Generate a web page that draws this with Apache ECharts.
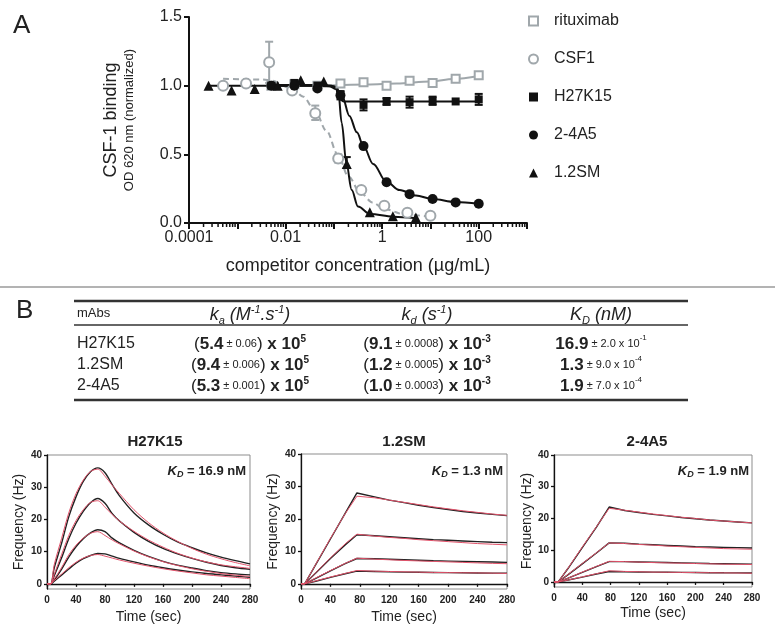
<!DOCTYPE html>
<html><head><meta charset="utf-8">
<script src="https://cdn.jsdelivr.net/npm/echarts@6/dist/echarts.min.js"></script>
<style>html,body{margin:0;padding:0;background:#fff}#c{width:775px;height:638px}</style>
</head><body><div id="c"></div>
<script>
// ================= Panel A data =================
const xTickExps = [-4, -2, 0, 2];
const xTickText = ['0.0001', '0.01', '1', '100'];
const yTicksA = [0, 0.5, 1.0, 1.5];
const minorMultipliers = [2, 3, 4, 5, 6, 7, 8, 9];
const minorDecades = [-4, -3, -2, -1, 0, 1, 2];

const concMab = [0.00508, 0.0152, 0.0457, 0.137, 0.4115, 1.235, 3.70, 11.1, 33.3, 100];
const ritVals = [1.0, 1.01, 1.0, 1.015, 1.025, 1.0, 1.035, 1.02, 1.05, 1.075];
const h27Vals = [1.0, 1.02, 1.0, 0.935, 0.86, 0.885, 0.88, 0.89, 0.885, 0.90];
const a45Vals = [1.0, 1.0, 0.98, 0.93, 0.56, 0.297, 0.21, 0.175, 0.15, 0.14];
const concCsf = [0.000508, 0.00152, 0.00457, 0.0137, 0.0412, 0.123, 0.37, 1.11, 3.33, 10];
const csfVals = [1.0, 1.015, 1.17, 0.965, 0.80, 0.47, 0.24, 0.125, 0.075, 0.053];
const concSm = [0.000254, 0.000762, 0.00229, 0.00686, 0.0206, 0.0617, 0.185, 0.556, 1.667, 5];
const smVals = [1.0, 0.965, 0.975, 1.0, 1.04, 1.03, 0.43, 0.078, 0.05, 0.04];

// error bars: [x, low, high]
const csfErr = [[0.00457, 1.02, 1.32], [0.0412, 0.75, 0.855], [0.123, 0.44, 0.50]];
const smErr = [[0.185, 0.40, 0.48]];
const h27Err = [[0.137, 0.90, 0.96], [0.4115, 0.82, 0.90], [1.235, 0.86, 0.91], [3.70, 0.84, 0.92], [11.1, 0.86, 0.92], [100, 0.86, 0.94]];

// fitted curves
const ritFitX = [0.00508, 0.05, 0.5, 2, 10, 30, 100];
const ritFitY = [1.0, 1.003, 1.008, 1.015, 1.03, 1.048, 1.07];
const csfFitX = [0.000508, 0.00316, 0.00457, 0.0135, 0.0234, 0.04, 0.0708, 0.12, 0.2, 0.355, 0.63, 1.12, 3.16, 10];
const csfFitY = [1.05, 1.045, 1.04, 0.98, 0.92, 0.82, 0.67, 0.50, 0.34, 0.22, 0.15, 0.10, 0.06, 0.045];
const h27FitX = [0.00508, 0.046, 0.09, 0.11, 0.125, 0.14, 0.16, 0.3, 100];
const h27FitY = [1.005, 1.005, 1.0, 0.98, 0.93, 0.895, 0.885, 0.885, 0.885];
const a45FitX = [0.00508, 0.03, 0.08, 0.112, 0.15, 0.21, 0.3, 0.41, 0.65, 1.23, 2.3, 5, 11, 33, 100];
const a45FitY = [1.0, 1.0, 0.995, 0.975, 0.92, 0.78, 0.66, 0.56, 0.43, 0.30, 0.24, 0.20, 0.175, 0.153, 0.14];
const smFitX = [0.000254, 0.05, 0.1, 0.115, 0.123, 0.145, 0.182, 0.234, 0.316, 0.56, 1.7, 5];
const smFitY = [1.0, 1.0, 0.995, 0.99, 0.97, 0.73, 0.435, 0.24, 0.12, 0.066, 0.046, 0.035];

// ================= Panel B table =================
const tabMabs = ['H27K15', '1.2SM', '2-4A5'];
const kaVal = ['5.4', '9.4', '5.3'];
const kaErr = ['0.06', '0.006', '0.001'];
const kaExp = '5';
const kdVal = ['9.1', '1.2', '1.0'];
const kdErr = ['0.0008', '0.0005', '0.0003'];
const kdExp = '-3';
const KDVal = ['16.9', '1.3', '1.9'];
const KDErr = ['2.0', '9.0', '7.0'];
const KDErrExp = ['-1', '-4', '-4'];

// ================= Panel B sensorgrams =================
const sensTitles = ['H27K15', '1.2SM', '2-4A5'];
const sensKD = ['16.9', '1.3', '1.9'];
const yTicksB = [0, 10, 20, 30, 40];

const tH = [0, 5, 10, 20, 30, 40, 50, 60, 70, 80, 90, 100, 120, 140, 160, 180, 200, 220, 240, 260, 280];
const h1k = [0, 0, 5, 12.5, 20.8, 27, 31.8, 34.8, 36, 34.5, 30.8, 27.3, 22, 18.3, 15.4, 13, 11.2, 9.6, 8.3, 7.2, 6.2];
const h1r = [0, 0, 6, 14, 22, 28, 32.2, 34.9, 35.6, 33.4, 30.6, 28, 23, 19, 15.8, 13.2, 11, 9.2, 7.8, 6.6, 5.6];
const h2k = [0, 0, 2.5, 8, 14, 18.8, 22.5, 25.2, 26.5, 25, 21.8, 19.5, 16, 13.2, 11, 9.3, 7.9, 6.7, 5.7, 5.0, 4.5];
const h2r = [0, 0, 3, 9, 15, 19.6, 23, 25.3, 25.8, 23.8, 21.5, 19.5, 16.3, 13.6, 11.4, 9.5, 8.0, 6.8, 5.9, 5.3, 4.8];
const h3k = [0, 0, 1.2, 4.5, 8.3, 11.5, 14, 15.8, 16.8, 16.2, 14.2, 12.7, 10.4, 8.5, 7.0, 5.8, 4.9, 4.1, 3.5, 3.1, 2.8];
const h3r = [0, 0, 1.5, 5, 9, 12, 14.2, 15.7, 16.2, 15.0, 13.6, 12.4, 10.2, 8.4, 6.9, 5.7, 4.7, 3.9, 3.2, 2.7, 2.3];
const h4k = [0, 0, 0.8, 2.7, 4.6, 6.4, 7.8, 8.8, 9.4, 9.3, 8.6, 7.9, 6.8, 5.8, 5.0, 4.3, 3.7, 3.2, 2.8, 2.4, 2.0];
const h4r = [0, 0, 1, 3, 5, 6.7, 8, 8.8, 9.1, 8.6, 8.0, 7.4, 6.4, 5.5, 4.7, 4.0, 3.4, 2.8, 2.4, 2.0, 1.6];

const tS = [0, 5, 20, 40, 60, 76, 100, 120, 140, 160, 180, 200, 220, 240, 260, 280];
const s1k = [0, 0, 5.9, 13.8, 21.7, 28, 26.8, 25.8, 25, 24.2, 23.5, 22.9, 22.3, 21.8, 21.4, 21.0];
const s1r = [0, 0, 6, 14, 21.6, 27, 26.5, 25.8, 25.1, 24.4, 23.7, 23.1, 22.5, 22, 21.5, 21.1];
const s2k = [0, 0, 3.3, 7.8, 12, 15.1, 14.8, 14.5, 14.2, 13.9, 13.6, 13.4, 13.2, 13, 12.8, 12.7];
const s2r = [0, 0, 3.4, 8, 12.3, 15.3, 14.7, 14.3, 14, 13.6, 13.3, 13, 12.7, 12.4, 12.2, 12.0];
const s3k = [0, 0, 1.7, 4.0, 6.2, 7.8, 7.7, 7.55, 7.4, 7.25, 7.1, 7.0, 6.9, 6.8, 6.7, 6.6];
const s3r = [0, 0, 1.8, 4.1, 6.3, 7.9, 7.6, 7.4, 7.2, 7.05, 6.9, 6.75, 6.6, 6.45, 6.3, 6.2];
const s4k = [0, 0, 0.8, 2.0, 3.1, 3.9, 3.8, 3.7, 3.6, 3.55, 3.5, 3.45, 3.4, 3.35, 3.3, 3.3];
const s4r = [0, 0, 0.9, 2.1, 3.2, 4.1, 3.9, 3.8, 3.7, 3.6, 3.5, 3.45, 3.4, 3.35, 3.3, 3.2];

const tA = [0, 6, 20, 40, 60, 78, 100, 120, 140, 160, 180, 200, 220, 240, 260, 280];
const a1k = [0, 0, 4.3, 10.8, 17.3, 23.6, 22.5, 21.9, 21.3, 20.8, 20.3, 19.9, 19.5, 19.2, 18.9, 18.6];
const a1r = [0, 0, 4.4, 11, 17.4, 23.2, 22.6, 22, 21.4, 20.9, 20.4, 20, 19.5, 19.2, 18.9, 18.6];
const a2k = [0, 0, 2.3, 5.7, 9.1, 12.3, 12.2, 11.9, 11.7, 11.5, 11.3, 11.1, 11.0, 10.9, 10.8, 10.7];
const a2r = [0, 0, 2.4, 5.8, 9.2, 12.3, 12.1, 11.8, 11.6, 11.3, 11.1, 10.9, 10.7, 10.5, 10.4, 10.3];
const a3k = [0, 0, 1.2, 3.0, 4.8, 6.4, 6.4, 6.3, 6.2, 6.1, 6.0, 5.9, 5.8, 5.75, 5.7, 5.6];
const a3r = [0, 0, 1.2, 3.1, 4.9, 6.5, 6.4, 6.25, 6.1, 6.0, 5.9, 5.8, 5.7, 5.6, 5.55, 5.5];
const a4k = [0, 0, 0.6, 1.5, 2.5, 3.3, 3.2, 3.15, 3.1, 3.05, 3.0, 2.95, 2.9, 2.87, 2.85, 2.8];
const a4r = [0, 0, 0.6, 1.6, 2.6, 3.5, 3.3, 3.2, 3.1, 3.05, 3.0, 2.95, 2.9, 2.85, 2.8, 2.75];

// ================= build chart =================
const FONT = '"Liberation Sans", Arial, Helvetica, sans-serif';
const GRAY = '#a0a7ab';
const BLK = '#111111';
const RED = '#e2526a';
const zip = (xs, ys) => xs.map((x, i) => [x, ys[i]]);

const xMinor = [];
minorDecades.forEach(e => minorMultipliers.forEach(m => xMinor.push(m * Math.pow(10, e))));

function errRender(color) {
  return function (params, api) {
    const x = api.value(0);
    const lo = api.coord([x, api.value(1)]);
    const hi = api.coord([x, api.value(2)]);
    const w = 4;
    const st = { stroke: color, lineWidth: 2 };
    return { type: 'group', children: [
      { type: 'line', shape: { x1: lo[0], y1: lo[1], x2: hi[0], y2: hi[1] }, style: st },
      { type: 'line', shape: { x1: hi[0] - w, y1: hi[1], x2: hi[0] + w, y2: hi[1] }, style: st },
      { type: 'line', shape: { x1: lo[0] - w, y1: lo[1], x2: lo[0] + w, y2: lo[1] }, style: st }
    ] };
  };
}

const series = [];
function fitLine(name, xs, ys, color, dashed) {
  series.push({ type: 'line', name: name, xAxisIndex: 0, yAxisIndex: 0, data: zip(xs, ys),
    showSymbol: false, smooth: 0.35, smoothMonotone: 'x', silent: true, z: 2,
    lineStyle: { color: color, width: 2, type: dashed ? [6, 4] : 'solid' } });
}
fitLine('ritFit', ritFitX, ritFitY, GRAY, false);
fitLine('csfFit', csfFitX, csfFitY, GRAY, true);
fitLine('h27Fit', h27FitX, h27FitY, BLK, false);
fitLine('a45Fit', a45FitX, a45FitY, BLK, false);
fitLine('smFit', smFitX, smFitY, BLK, false);

function errSeries(data, color) {
  series.push({ type: 'custom', xAxisIndex: 0, yAxisIndex: 0, data: data, encode: { x: 0, y: [1, 2] },
    renderItem: errRender(color), silent: true, z: 3 });
}
errSeries(csfErr, GRAY);
errSeries(smErr, BLK);
errSeries(h27Err, BLK);

function scat(name, xs, ys, symbol, size, style) {
  series.push({ type: 'scatter', name: name, xAxisIndex: 0, yAxisIndex: 0, data: zip(xs, ys),
    symbol: symbol, symbolSize: size, itemStyle: Object.assign({ opacity: 1 }, style), z: 4 });
}
scat('rituximab', concMab, ritVals, 'rect', 8, { color: '#fff', borderColor: GRAY, borderWidth: 2 });
scat('CSF1', concCsf, csfVals, 'circle', 10, { color: '#fff', borderColor: GRAY, borderWidth: 2 });
scat('H27K15', concMab, h27Vals, 'rect', 8, { color: BLK });
scat('2-4A5', concMab, a45Vals, 'circle', 10, { color: BLK });
scat('1.2SM', concSm, smVals, 'triangle', 10, { color: BLK });

// minor log ticks on the x axis of panel A
series.push({ type: 'custom', xAxisIndex: 0, yAxisIndex: 0, data: xMinor.map(v => [v, 0]),
  encode: { x: 0, y: 1 }, clip: false, silent: true, z: 5,
  renderItem: function (p, api) {
    const pt = api.coord([api.value(0), 0]);
    return { type: 'line', shape: { x1: pt[0], y1: pt[1], x2: pt[0], y2: pt[1] + 4 }, style: { stroke: BLK, lineWidth: 1.5 } };
  } });

// sensorgrams
const sensSets = [
  { t: tH, k: [h1k, h2k, h3k, h4k], r: [h1r, h2r, h3r, h4r], smooth: 0.3 },
  { t: tS, k: [s1k, s2k, s3k, s4k], r: [s1r, s2r, s3r, s4r], smooth: false },
  { t: tA, k: [a1k, a2k, a3k, a4k], r: [a1r, a2r, a3r, a4r], smooth: false }
];
sensSets.forEach((s, i) => {
  s.k.forEach(arr => series.push({ type: 'line', xAxisIndex: i + 1, yAxisIndex: i + 1, data: zip(s.t, arr),
    showSymbol: false, smooth: s.smooth, silent: true, z: 2, lineStyle: { color: '#222', width: 1.4 } }));
  s.r.forEach(arr => series.push({ type: 'line', xAxisIndex: i + 1, yAxisIndex: i + 1, data: zip(s.t, arr),
    showSymbol: false, smooth: s.smooth, silent: true, z: 3, lineStyle: { color: RED, width: 1 } }));
});

const gridB = { show: true, borderColor: '#8d8d8d', borderWidth: 1, backgroundColor: 'transparent' };
const grids = [
  { left: 189, right: 248, top: 17, bottom: 415 },
  Object.assign({ left: 47, right: 525, top: 455, bottom: 49 }, gridB),
  Object.assign({ left: 301, right: 268, top: 454, bottom: 49 }, gridB),
  Object.assign({ left: 554, right: 23, top: 455, bottom: 51 }, gridB)
];

const xAxes = [{
  type: 'log', logBase: 10, gridIndex: 0, min: 0.0001, max: 1000,
  axisLine: { lineStyle: { color: BLK, width: 2 } },
  axisTick: { show: true, inside: false, length: 6, lineStyle: { color: BLK, width: 2 } },
  splitLine: { show: false },
  axisLabel: { color: '#222', fontSize: 16, fontFamily: FONT, margin: 7,
    formatter: v => { const e = Math.round(Math.log10(v)); const i = xTickExps.indexOf(e); return i >= 0 ? xTickText[i] : ''; } },
  name: 'competitor concentration (µg/mL)', nameLocation: 'middle', nameGap: 34,
  nameTextStyle: { color: '#222', fontSize: 18, fontFamily: FONT }
}];
const yAxes = [{
  type: 'value', gridIndex: 0, min: 0, max: 1.5, interval: 0.5,
  axisLine: { show: true, lineStyle: { color: BLK, width: 2 } },
  axisTick: { show: true, length: 5, lineStyle: { color: BLK, width: 2 } },
  splitLine: { show: false },
  axisLabel: { color: '#222', fontSize: 16, fontFamily: FONT, margin: 7, formatter: v => v.toFixed(1) },
  name: '{a|CSF-1 binding}\n{b|OD 620 nm (normalized)}', nameLocation: 'middle', nameRotate: 90, nameGap: 52,
  nameTextStyle: { rich: {
    a: { fontSize: 18, fontFamily: FONT, color: '#222', lineHeight: 20 },
    b: { fontSize: 13, fontFamily: FONT, color: '#222', lineHeight: 16 } } }
}];
const xNameGaps = [21, 21, 19];
const yNameGaps = [21, 21, 20];
for (let i = 0; i < 3; i++) {
  xAxes.push({ type: 'value', gridIndex: i + 1, min: 0, max: 280, interval: 40,
    axisLine: { lineStyle: { color: BLK, width: 1.3 } },
    axisTick: { length: 3, lineStyle: { color: BLK, width: 1.3 } },
    splitLine: { show: false },
    axisLabel: { color: '#222', fontSize: 10, fontWeight: 'bold', fontFamily: FONT, margin: 6 },
    name: 'Time (sec)', nameLocation: 'middle', nameGap: xNameGaps[i],
    nameTextStyle: { color: '#222', fontSize: 14, fontFamily: FONT } });
  yAxes.push({ type: 'value', gridIndex: i + 1, min: -1.6, max: 40,
    axisLine: { show: true, lineStyle: { color: BLK, width: 1.3 } },
    axisTick: { show: true, length: 3, customValues: yTicksB, lineStyle: { color: BLK, width: 1.3 } },
    splitLine: { show: false },
    axisLabel: { color: '#222', fontSize: 10, fontWeight: 'bold', fontFamily: FONT, margin: 5, customValues: yTicksB },
    name: 'Frequency (Hz)', nameLocation: 'middle', nameRotate: 90, nameGap: yNameGaps[i],
    nameTextStyle: { color: '#222', fontSize: 14, fontFamily: FONT } });
}

// ---- graphics: panel letters, separator, table, sensorgram titles ----
const graphic = [];
function txt(x, y, text, rich, align, font) {
  graphic.push({ type: 'text', x: x, y: y, silent: true,
    style: { text: text, rich: rich, align: align, verticalAlign: 'middle', textAlign: align, textVerticalAlign: 'middle',
      font: font || ('16px ' + FONT), fill: '#222' } });
}
txt(13, 26, 'A', null, 'left', '26px ' + FONT);
txt(16, 311, 'B', null, 'left', '26px ' + FONT);
graphic.push({ type: 'line', silent: true, shape: { x1: 0, y1: 287, x2: 775, y2: 287 }, style: { stroke: '#9a9a9a', lineWidth: 1.5 } });

// table lines
const tabL = 74, tabR = 688;
graphic.push({ type: 'line', silent: true, shape: { x1: tabL, y1: 301, x2: tabR, y2: 301 }, style: { stroke: '#333', lineWidth: 2.5 } });
graphic.push({ type: 'line', silent: true, shape: { x1: tabL, y1: 325, x2: tabR, y2: 325 }, style: { stroke: '#333', lineWidth: 1.5 } });
graphic.push({ type: 'line', silent: true, shape: { x1: tabL, y1: 400, x2: tabR, y2: 400 }, style: { stroke: '#333', lineWidth: 2.5 } });

const R = {
  n: { fontSize: 17, fontFamily: FONT, color: '#222', lineHeight: 20, verticalAlign: 'middle' },
  b: { fontSize: 17, fontWeight: 'bold', fontFamily: FONT, color: '#222', lineHeight: 20, verticalAlign: 'middle' },
  s: { fontSize: 11, fontFamily: FONT, color: '#222', lineHeight: 20, verticalAlign: 'middle' },
  sup: { fontSize: 10, fontWeight: 'bold', fontFamily: FONT, color: '#222', lineHeight: 10, verticalAlign: 'top' },
  ssup: { fontSize: 8, fontFamily: FONT, color: '#222', lineHeight: 8, verticalAlign: 'top' },
  i: { fontSize: 18, fontStyle: 'italic', fontFamily: FONT, color: '#222', lineHeight: 22, verticalAlign: 'middle' },
  sub: { fontSize: 11, fontStyle: 'italic', fontFamily: FONT, color: '#222', lineHeight: 11, verticalAlign: 'bottom' },
  hs: { fontSize: 11, fontStyle: 'italic', fontFamily: FONT, color: '#222', lineHeight: 11, verticalAlign: 'top' },
  m: { fontSize: 13, fontFamily: FONT, color: '#222' },
  r: { fontSize: 16, fontFamily: FONT, color: '#222' }
};
const colKa = 250, colKd = 427, colKD = 601;
const rowY = [344, 365, 386];
txt(77, 313, '{m|mAbs}', R, 'left');
txt(colKa, 315, '{i|k}{sub|a}{i| (M}{hs|-1}{i|.s}{hs|-1}{i|)}', R, 'center');
txt(colKd, 315, '{i|k}{sub|d}{i| (s}{hs|-1}{i|)}', R, 'center');
txt(colKD, 315, '{i|K}{sub|D}{i| (nM)}', R, 'center');
for (let r = 0; r < 3; r++) {
  txt(77, rowY[r], '{r|' + tabMabs[r] + '}', R, 'left');
  txt(colKa, rowY[r], '{n|(}{b|' + kaVal[r] + '}{s| ± ' + kaErr[r] + '}{n|)}{b| x 10}{sup|' + kaExp + '}', R, 'center');
  txt(colKd, rowY[r], '{n|(}{b|' + kdVal[r] + '}{s| ± ' + kdErr[r] + '}{n|)}{b| x 10}{sup|' + kdExp + '}', R, 'center');
  txt(colKD, rowY[r], '{b|' + KDVal[r] + '}{s| ± ' + KDErr[r] + ' x 10}{ssup|' + KDErrExp[r] + '}', R, 'center');
}

// sensorgram titles and KD notes
const titleX = [155, 404, 647];
const kdRight = [246, 503, 749];
const RK = {
  k: { fontSize: 13, fontWeight: 'bold', fontStyle: 'italic', fontFamily: FONT, color: '#222', lineHeight: 17, verticalAlign: 'middle' },
  d: { fontSize: 9, fontWeight: 'bold', fontStyle: 'italic', fontFamily: FONT, color: '#222', lineHeight: 9, verticalAlign: 'bottom' },
  t: { fontSize: 13, fontWeight: 'bold', fontFamily: FONT, color: '#222', lineHeight: 17, verticalAlign: 'middle' }
};
for (let i = 0; i < 3; i++) {
  txt(titleX[i], 442, sensTitles[i], null, 'center', 'bold 15px ' + FONT);
  txt(kdRight[i], 471, '{k|K}{d|D}{t| = ' + sensKD[i] + ' nM}', RK, 'right');
}

const option = {
  animation: false,
  backgroundColor: '#fff',
  grid: grids,
  xAxis: xAxes,
  yAxis: yAxes,
  legend: {
    orient: 'vertical', left: 523, top: 8, itemWidth: 9, itemHeight: 9, itemGap: 22,
    data: ['rituximab', 'CSF1', 'H27K15', '2-4A5', '1.2SM'],
    textStyle: { fontSize: 16, fontFamily: FONT, color: '#222', padding: [0, 0, 0, 11] },
    selectedMode: false
  },
  series: series,
  graphic: graphic
};
const chart = echarts.init(document.getElementById('c'));
chart.setOption(option);
</script>
</body></html>
